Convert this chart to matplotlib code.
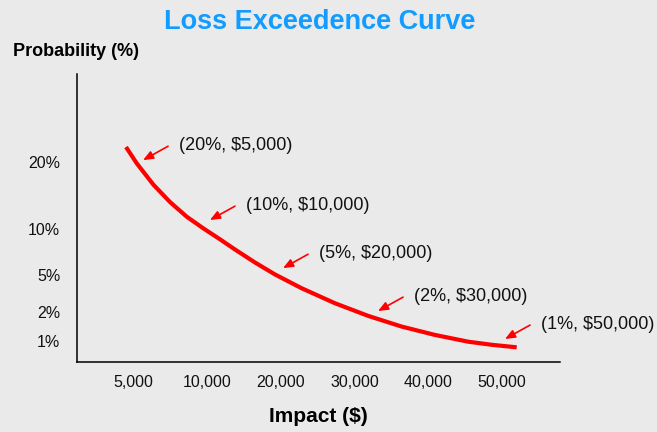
import matplotlib.pyplot as plt

plt.rcParams['font.family'] = ['Liberation Sans', 'DejaVu Sans']

# x axis: evenly spaced impact levels (position index -> label)
impact_labels = ['5,000', '10,000', '20,000', '30,000', '40,000', '50,000']
# y axis: probability levels, placed at their heights on a 0-100 axis scale
prob_labels = ['1%', '2%', '5%', '10%', '20%']
prob_pos = [7.3, 17.4, 30.2, 46.2, 69.4]

# the drawn loss exceedance curve
curve_x = [-0.095, 0.050, 0.275, 0.501, 0.728, 0.953, 1.179, 1.382, 1.653,
           1.924, 2.286, 2.737, 3.188, 3.641, 4.092, 4.543, 4.864, 5.199]
curve_y = [74.65, 69.0, 61.6, 55.55, 50.45, 46.4, 42.6, 39.06, 34.55,
           30.4, 25.6, 20.4, 16.0, 12.3, 9.4, 7.05, 5.97, 5.1]

# callouts: label and the curve spot the arrow points to
callout_text = ['(20%, $5,000)', '(10%, $10,000)', '(5%, $20,000)', '(2%, $30,000)', '(1%, $50,000)']
callout_x = [0.136, 1.043, 2.033, 3.320, 5.041]
callout_y = [70.1, 49.3, 32.6, 17.7, 8.0]

bg = '#eaeaea'
fig = plt.figure(figsize=(6.57, 4.32), dpi=100, facecolor=bg)
ax = fig.add_axes([0.1172, 0.162, 0.7352, 0.6667])
ax.set_facecolor(bg)

ax.plot(curve_x, curve_y, color='#ff0000', lw=3, solid_capstyle='butt',
        solid_joinstyle='round')

for txt, x, y in zip(callout_text, callout_x, callout_y):
    ax.annotate('', xy=(x, y), xytext=(18, 10), textcoords='offset points',
                arrowprops=dict(arrowstyle='-|>,head_length=0.6,head_width=0.25',
                                color='#ff0000', lw=1.2, mutation_scale=10,
                                shrinkA=0, shrinkB=0))
    ax.annotate(txt, xy=(x, y), xytext=(26, 10.5), textcoords='offset points',
                ha='left', va='center', fontsize=13, color='#111111')

ax.set_xlim(-0.759, 5.786)
ax.set_ylim(0, 100)
ax.set_xticks(range(len(impact_labels)))
ax.set_xticklabels(impact_labels)
ax.set_yticks(prob_pos)
ax.set_yticklabels(prob_labels)
ax.tick_params(axis='both', length=0, labelsize=11.5, colors='#111111')
ax.tick_params(axis='x', pad=9)
ax.tick_params(axis='y', pad=12)

for s in ['top', 'right']:
    ax.spines[s].set_visible(False)
for s in ['left', 'bottom']:
    ax.spines[s].set_linewidth(1.1)
    ax.spines[s].set_color('black')

fig.text(0.487, 0.949, 'Loss Exceedence Curve', ha='center', va='center',
         fontsize=19.5, fontweight='bold', color='#129cff')
fig.text(0.02, 0.88, 'Probability (%)', ha='left', va='center',
         fontsize=13, fontweight='bold', color='black')
fig.text(0.484, 0.035, 'Impact ($)', ha='center', va='center',
         fontsize=15, fontweight='bold', color='black')

fig.savefig('out.png', dpi=100, facecolor=bg)
